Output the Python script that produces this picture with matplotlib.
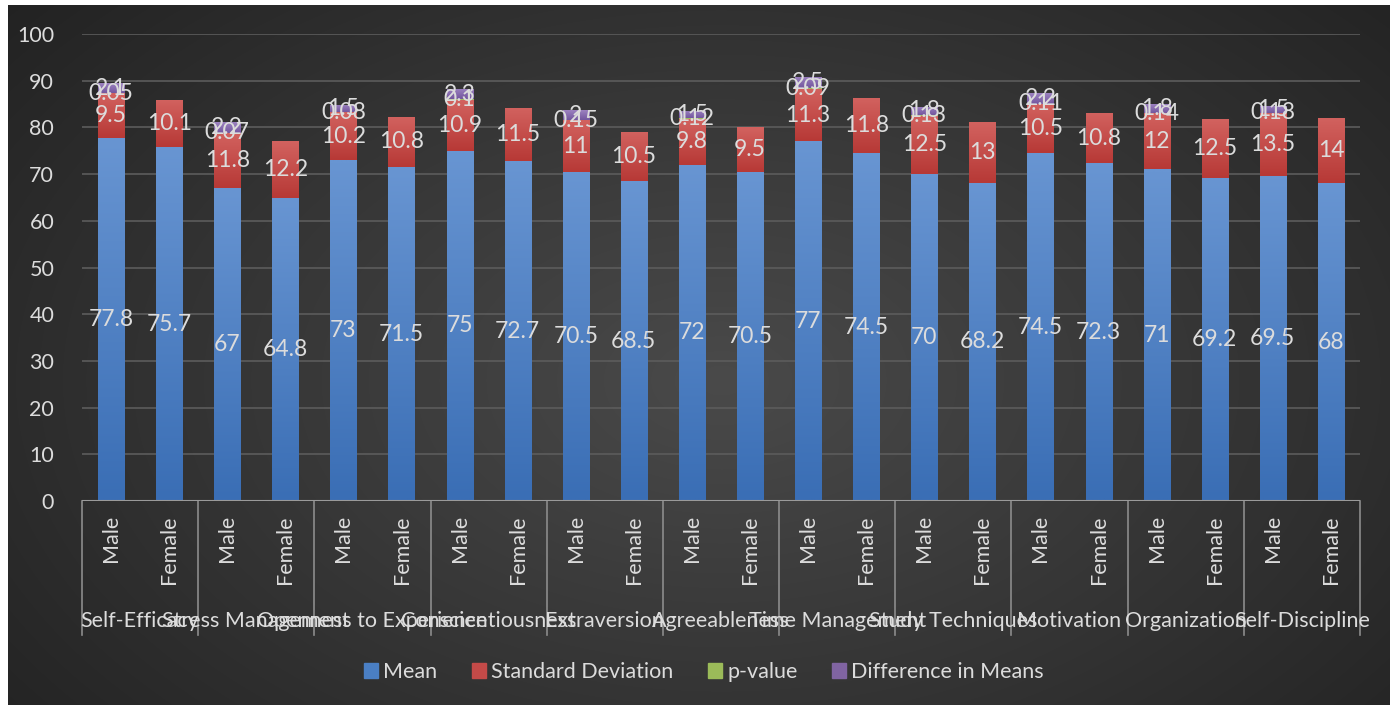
import numpy as np
import matplotlib
matplotlib.use("Agg")
import matplotlib.pyplot as plt
from matplotlib.patches import Rectangle
from matplotlib.colors import to_rgb
from matplotlib.transforms import blended_transform_factory

categories = ["Self-Efficacy", "Stress Management", "Openness to Experience",
              "Conscientiousness", "Extraversion", "Agreeableness",
              "Time Management", "Study Techniques", "Motivation",
              "Organization", "Self-Discipline"]
genders = ["Male", "Female"]

mean_male = [77.8, 67, 73, 75, 70.5, 72, 77, 70, 74.5, 71, 69.5]
mean_female = [75.7, 64.8, 71.5, 72.7, 68.5, 70.5, 74.5, 68.2, 72.3, 69.2, 68]
sd_male = [9.5, 11.8, 10.2, 10.9, 11, 9.8, 11.3, 12.5, 10.5, 12, 13.5]
sd_female = [10.1, 12.2, 10.8, 11.5, 10.5, 9.5, 11.8, 13, 10.8, 12.5, 14]
p_value = [0.05, 0.07, 0.08, 0.1, 0.15, 0.12, 0.09, 0.13, 0.11, 0.14, 0.18]
diff_means = [2.1, 2.2, 1.5, 2.3, 2, 1.5, 2.5, 1.8, 2.2, 1.8, 1.5]

series_names = ["Mean", "Standard Deviation", "p-value", "Difference in Means"]
colors = ["#4a7fc4", "#c44a48", "#9bbb59", "#8064a2"]
# (top, bottom) shades for the vertical fill of each segment
shades = [("#6895d2", "#3a6eb5"), ("#d2625f", "#b73936"),
          ("#b2d074", "#8cad4a"), ("#9c82c0", "#73569e")]
text_col = "#dcdcdc"
font = "Lato"

# interleave male/female rows
n = len(categories)
mean, sd, pv, dm = [], [], [], []
for i in range(n):
    mean += [mean_male[i], mean_female[i]]
    sd += [sd_male[i], sd_female[i]]
    pv += [p_value[i], 0]
    dm += [diff_means[i], 0]
series = [np.array(mean), np.array(sd), np.array(pv), np.array(dm)]
x = np.arange(2 * n)

W, H = 1395, 709
fig = plt.figure(figsize=(W / 100, H / 100), dpi=100, facecolor="white")

# dark radial background panel
bg = fig.add_axes([0, 0, 1, 1], zorder=-10)
yy, xx = np.mgrid[0:H, 0:W]
r = np.sqrt(((xx - 720) / 950.0) ** 2 + ((yy - 380) / 600.0) ** 2)
r = np.clip(r, 0, 1)
c0 = np.array([0x4a, 0x4a, 0x4a]) / 255
c1 = np.array([0x22, 0x22, 0x22]) / 255
img = c0[None, None, :] * (1 - r[..., None]) + c1[None, None, :] * r[..., None]
bg.imshow(img, extent=[8, 1390, 705, 5], aspect="auto")
bg.set_xlim(0, W)
bg.set_ylim(H, 0)
bg.axis("off")

ax = fig.add_axes([82 / W, 1 - 501 / H, (1360 - 82) / W, (501 - 34) / H])
ax.set_facecolor("none")
for s in ax.spines.values():
    s.set_visible(False)

bottom = np.zeros(len(x))
bw = 0.45
for vals, name, col, (top_c, bot_c) in zip(series, series_names, colors, shades):
    bars = ax.bar(x, vals, bw, bottom=bottom, color=col, zorder=3)
    grad = np.linspace(0, 1, 64)[:, None, None]
    gimg = np.array(to_rgb(bot_c))[None, None, :] * (1 - grad) + \
        np.array(to_rgb(top_c))[None, None, :] * grad
    for rect in bars:
        h = rect.get_height()
        if h <= 0:
            continue
        x0, y0, w = rect.get_x(), rect.get_y(), rect.get_width()
        im = ax.imshow(gimg, extent=[x0, x0 + w, y0, y0 + h], origin="lower",
                       aspect="auto", zorder=3.5, interpolation="bilinear")
        im.set_clip_path(rect)
    for xi, v, b in zip(x, vals, bottom):
        if v > 0:
            ax.text(xi, b + v / 2, f"{v:g}", ha="center", va="center",
                    color=text_col, fontsize=16.5, family=font, zorder=5)
    bottom = bottom + vals

ax.set_xlim(-0.5, 2 * n - 0.5)
ax.set_ylim(0, 100)
ax.set_yticks(np.arange(0, 101, 10))
ax.yaxis.grid(True, color="#5c5c5c", linewidth=1.2, zorder=0)
ax.set_axisbelow(True)
ax.tick_params(axis="y", length=0, pad=20, labelcolor=text_col, labelsize=15.5)
for lab in ax.get_yticklabels():
    lab.set_family(font)
ax.set_xticks([])
ax.axhline(0, color="#9a9a9a", linewidth=1.5, zorder=4)

tr = blended_transform_factory(ax.transData, ax.transAxes)
for i in range(n + 1):
    ax.plot([2 * i - 0.5, 2 * i - 0.5], [0, -0.287], transform=tr,
            color="#8c8c8c", linewidth=1.2, clip_on=False)
for xi in x:
    ax.text(xi, -0.03, genders[xi % 2], transform=tr, rotation=90,
            ha="center", va="top", color=text_col, fontsize=15.5, family=font)
for i, cat in enumerate(categories):
    ax.text(2 * i + 0.5, -0.258, cat, transform=tr, ha="center", va="center",
            color=text_col, fontsize=15.5, family=font)

handles = [Rectangle((0, 0), 1, 1, color=c) for c in colors]
leg = fig.legend(handles, series_names, loc="center",
                 bbox_to_anchor=(704 / W, 1 - 672 / H),
                 ncol=4, frameon=False, handlelength=0.65,
                 handleheight=0.65, handletextpad=0.25, columnspacing=1.6,
                 prop={"family": font, "size": 15.5})
for t in leg.get_texts():
    t.set_color(text_col)

fig.savefig("out.png", dpi=100, facecolor="white")
